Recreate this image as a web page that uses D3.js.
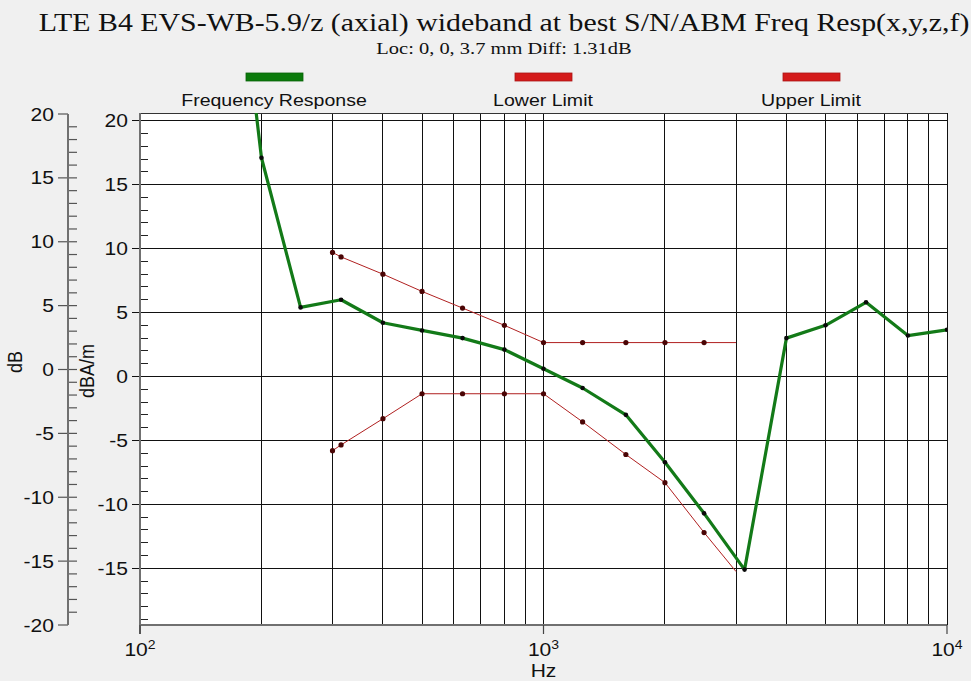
<!DOCTYPE html>
<html>
<head>
<meta charset="utf-8">
<script src="https://cdn.jsdelivr.net/npm/d3@7"></script>
<style>
  html, body { margin: 0; padding: 0; background: #f0f0f0; }
  svg { display: block; }
</style>
</head>
<body>
<div id="plot"></div>
<script>
// data
var respFreq = [160, 200, 250, 315, 400, 500, 630, 800, 1000, 1250, 1600, 2000, 2500, 3150, 4000, 5000, 6300, 8000, 10000];
var respDb   = [43, 17.1, 5.4, 6.0, 4.2, 3.6, 3.0, 2.1, 0.6, -0.9, -3.0, -6.7, -10.7, -15.1, 3.0, 4.0, 5.8, 3.2, 3.65];

var limFreq  = [300, 315, 400, 500, 630, 800, 1000, 1250, 1600, 2000, 2500, 3000];
var upperDb  = [9.7, 9.35, 8.0, 6.65, 5.35, 4.0, 2.65, 2.65, 2.65, 2.65, 2.65, 2.65];
var lowerDb  = [-5.8, -5.35, -3.3, -1.35, -1.35, -1.35, -1.35, -3.55, -6.1, -8.3, -12.2, -15.25];

var yMajor   = [-15, -10, -5, 0, 5, 10, 15, 20];
var outerMajor = [-20, -15, -10, -5, 0, 5, 10, 15, 20];
var xGrid    = [200, 300, 400, 500, 600, 700, 800, 900, 1000, 2000, 3000, 4000, 5000, 6000, 7000, 8000, 9000, 10000];
var xMajor   = [100, 1000, 10000];
var xExp     = ['2', '3', '4'];

var legendNames = ['Frequency Response', 'Lower Limit', 'Upper Limit'];
var legendColors = ['#0b7a0b', '#d41a1a', '#d41a1a'];

var W = 971, H = 681;
var SX = 1.17; // text in the original is stretched sideways
var pL = 140, pR = 947, pT = 113, pB = 625;

var svg = d3.select('#plot').append('svg')
  .attr('width', W)
  .attr('height', H)
  .style('background', '#f0f0f0');

var x = d3.scaleLog().domain([100, 10000]).range([pL, pR]);
var y = d3.scaleLinear().domain([-19.43, 20.6]).range([pB, pT]);
var yOuter = d3.scaleLinear().domain([-20, 20]).range([pB, 114]);

function label(g, px, py, s, size, family, anchor, rot) {
  return g.append('text')
    .attr('transform', 'translate(' + px + ',' + py + ') scale(' + SX + ',1)' + (rot ? ' rotate(-90)' : ''))
    .attr('text-anchor', anchor || 'middle')
    .style('font-family', family || 'Liberation Sans, Arial, sans-serif')
    .style('font-size', size + 'px')
    .style('fill', '#111')
    .text(s);
}

// title
label(svg, 504, 31, 'LTE B4 EVS-WB-5.9/z (axial) wideband at best S/N/ABM Freq Resp(x,y,z,f)', 25.5, 'Liberation Serif, Times New Roman, serif');
label(svg, 504, 54, 'Loc: 0, 0, 3.7 mm Diff: 1.31dB', 17.5, 'Liberation Serif, Times New Roman, serif');

// legend
var legX = [274, 543, 811];
legendNames.forEach(function(n, i) {
  svg.append('rect')
    .attr('x', legX[i] - 28).attr('y', 73)
    .attr('width', 57).attr('height', 8)
    .style('fill', legendColors[i])
    .style('stroke', d3.color(legendColors[i]).darker(0.6))
    .style('stroke-width', 0.8);
  label(svg, legX[i], 106, n, 16.7);
});

// plot area
svg.append('rect')
  .attr('x', pL).attr('y', pT)
  .attr('width', pR - pL).attr('height', pB - pT)
  .style('fill', '#fff');

svg.append('defs').append('clipPath').attr('id', 'clip')
  .append('rect')
  .attr('x', pL).attr('y', pT)
  .attr('width', pR - pL).attr('height', pB - pT);

// grid
svg.selectAll('.vgrid')
  .data(xGrid)
  .enter()
  .append('line')
  .attr('x1', function(d) { return x(d); })
  .attr('x2', function(d) { return x(d); })
  .attr('y1', pT)
  .attr('y2', pB)
  .attr('shape-rendering', 'crispEdges')
  .style('stroke', '#111')
  .style('stroke-width', 1);

svg.selectAll('.hgrid')
  .data(yMajor)
  .enter()
  .append('line')
  .attr('x1', pL - 8)
  .attr('x2', pR)
  .attr('y1', function(d) { return y(d); })
  .attr('y2', function(d) { return y(d); })
  .attr('shape-rendering', 'crispEdges')
  .style('stroke', '#111')
  .style('stroke-width', 1);

svg.append('line')
  .attr('x1', pL).attr('x2', pR)
  .attr('y1', pT).attr('y2', pT)
  .attr('shape-rendering', 'crispEdges')
  .style('stroke', '#333').style('stroke-width', 1);

// inner (dBA/m) axis
var minorIn = d3.range(-19, 21).filter(function(d) { return d % 5 != 0 && y(d) > pT; });
svg.selectAll('.minIn')
  .data(minorIn)
  .enter()
  .append('line')
  .attr('x1', pL).attr('x2', pL + 8)
  .attr('y1', function(d) { return y(d); })
  .attr('y2', function(d) { return y(d); })
  .attr('shape-rendering', 'crispEdges')
  .style('stroke', '#222').style('stroke-width', 1);

svg.append('line')
  .attr('x1', pL).attr('x2', pL)
  .attr('y1', pT).attr('y2', pB + 9)
  .style('stroke', '#707070').style('stroke-width', 2);

yMajor.forEach(function(d) {
  label(svg, 128, y(d) + 6.5, d, 18, null, 'end');
});

// outer (dB) axis
var minorOut = d3.range(-20, 21).filter(function(d) { return d % 5 != 0; });
svg.selectAll('.minOut')
  .data(minorOut)
  .enter()
  .append('line')
  .attr('x1', 68).attr('x2', 77)
  .attr('y1', function(d) { return yOuter(d); })
  .attr('y2', function(d) { return yOuter(d); })
  .style('stroke', '#555').style('stroke-width', 1.2);

svg.selectAll('.majOut')
  .data(outerMajor)
  .enter()
  .append('line')
  .attr('x1', 58)
  .attr('x2', function(d) { return Math.abs(d) == 20 ? 68 : 77; })
  .attr('y1', function(d) { return yOuter(d); })
  .attr('y2', function(d) { return yOuter(d); })
  .style('stroke', '#555').style('stroke-width', 1.2);

svg.append('line')
  .attr('x1', 68).attr('x2', 68)
  .attr('y1', yOuter(20)).attr('y2', yOuter(-20))
  .style('stroke', '#707070').style('stroke-width', 2);

outerMajor.forEach(function(d) {
  label(svg, 54, yOuter(d) + 6.5, d, 18, null, 'end');
});

label(svg, 22, 362, 'dB', 18, null, 'middle', true);
label(svg, 94, 371, 'dBA/m', 18, null, 'middle', true);

// x axis
svg.append('line')
  .attr('x1', pL - 1).attr('x2', pR)
  .attr('y1', pB).attr('y2', pB)
  .style('stroke', '#707070').style('stroke-width', 2);

svg.selectAll('.xtick')
  .data(xMajor)
  .enter()
  .append('line')
  .attr('x1', function(d) { return x(d); })
  .attr('x2', function(d) { return x(d); })
  .attr('y1', pB).attr('y2', pB + 9)
  .style('stroke', '#444').style('stroke-width', 1.2);

xMajor.forEach(function(d, i) {
  var t = label(svg, x(d), 656, '10', 18);
  t.append('tspan').attr('dy', -7).style('font-size', '12px').text(xExp[i]);
});
label(svg, x(1000), 677, 'Hz', 18);

// series
var pts = function(fs, vs) { return fs.map(function(f, i) { return [f, vs[i]]; }); };
var line = d3.line()
  .x(function(d) { return x(d[0]); })
  .y(function(d) { return y(d[1]); });

var plot = svg.append('g').attr('clip-path', 'url(#clip)');

[upperDb, lowerDb].forEach(function(vals) {
  var p = pts(limFreq, vals);
  plot.append('path')
    .attr('d', line(p))
    .style('fill', 'none')
    .style('stroke', '#b02020')
    .style('stroke-width', 1);
  plot.selectAll(null)
    .data(p.slice(0, p.length - 1))
    .enter()
    .append('circle')
    .attr('cx', function(d) { return x(d[0]); })
    .attr('cy', function(d) { return y(d[1]); })
    .attr('r', 2.6)
    .style('fill', '#4a0505');
});

var resp = pts(respFreq, respDb);
plot.append('path')
  .attr('d', line(resp))
  .style('fill', 'none')
  .style('stroke', '#137a18')
  .style('stroke-width', 3.2)
  .style('stroke-linejoin', 'round');

plot.selectAll(null)
  .data(resp)
  .enter()
  .append('circle')
  .attr('cx', function(d) { return x(d[0]); })
  .attr('cy', function(d) { return y(d[1]); })
  .attr('r', 2.3)
  .style('fill', '#0a0a0a');
</script>
</body>
</html>
